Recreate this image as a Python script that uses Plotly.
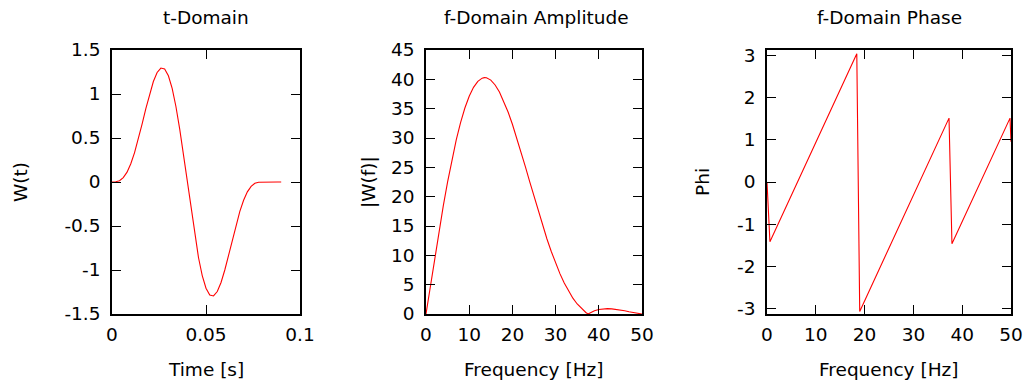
import plotly.graph_objects as go

# ---- data ----
time_s = [0.000, 0.002, 0.004, 0.006, 0.008, 0.010, 0.012, 0.014, 0.016, 0.018,
          0.020, 0.022, 0.024, 0.026, 0.028, 0.030, 0.032, 0.034, 0.036, 0.038,
          0.040, 0.042, 0.044, 0.046, 0.048, 0.050, 0.052, 0.054, 0.056, 0.058,
          0.060, 0.062, 0.064, 0.066, 0.068, 0.070, 0.072, 0.074, 0.076, 0.078,
          0.080, 0.082, 0.084, 0.086, 0.088, 0.090]
w_t = [0.000, 0.002, 0.015, 0.050, 0.112, 0.207, 0.334, 0.487, 0.657, 0.833,
       1.000, 1.142, 1.245, 1.295, 1.285, 1.207, 1.063, 0.858, 0.603, 0.311,
       0.000, -0.311, -0.603, -0.858, -1.063, -1.207, -1.285, -1.295, -1.245, -1.142,
       -1.000, -0.833, -0.657, -0.487, -0.334, -0.207, -0.112, -0.050, -0.015, -0.002,
       0.000, 0.000, 0.000, 0.000, 0.000, 0.000]

freq_amp = [0, 1, 2, 3, 4, 5, 6, 7, 8, 9, 10, 11, 12, 12.5, 13, 13.5, 14, 15, 16, 17,
            18, 19, 20, 21, 22, 23, 24, 25, 26, 27, 28, 29, 30, 31, 32, 33, 34, 35, 36,
            37, 37.5, 38, 39, 40, 41, 42, 43, 44, 45, 46, 47, 48, 49, 50]
amp = [0.0, 4.79, 9.50, 14.08, 18.44, 22.53, 26.28, 29.66, 32.61, 35.11, 37.12, 38.64,
       39.66, 40.00, 40.20, 40.29, 40.26, 39.87, 39.04, 37.83, 36.28, 34.44, 32.34, 30.05,
       27.63, 25.11, 22.55, 20.00, 17.50, 15.09, 12.79, 10.65, 8.67, 6.88, 5.29, 3.90,
       2.70, 1.71, 0.90, 0.26, 0.00, 0.22, 0.56, 0.78, 0.89, 0.92, 0.88, 0.80, 0.68,
       0.54, 0.39, 0.25, 0.12, 0.00]

freq_phase = [0.0, 0.6, 18.4, 19.0, 37.3, 37.9, 49.8, 50.0]
phase = [0.0, -1.42, 3.05, -3.08, 1.52, -1.47, 1.52, 0.96]

# ---- tick labels ----
t_xticks = [0, 0.05, 0.1]
t_xtext = ["0", "0.05", "0.1"]
t_yticks = [-1.5, -1, -0.5, 0, 0.5, 1, 1.5]
t_ytext = ["-1.5", "-1", "-0.5", "0", "0.5", "1", "1.5"]
f_xticks = [0, 10, 20, 30, 40, 50]
f_xtext = ["0", "10", "20", "30", "40", "50"]
a_yticks = [0, 5, 10, 15, 20, 25, 30, 35, 40, 45]
a_ytext = [str(v) for v in a_yticks]
p_yticks = [-3, -2, -1, 0, 1, 2, 3]
p_ytext = ["-3", "-2", "-1", "0", "1", "2", "3"]

# the page body has an 8px margin, so the figure starts at (8, 8)
OFF = 8
W, H = 1031 - OFF, 383 - OFF
FONT = "DejaVu Sans, sans-serif"
FS = 18.5

def px_x(p):
    return (p - OFF) / W

def px_y(p):
    return 1 - (p - OFF) / H

fig = go.Figure()
line = dict(color="#ff0000", width=1.1)
fig.add_trace(go.Scatter(x=time_s, y=w_t, mode="lines", line=line, xaxis="x", yaxis="y"))
fig.add_trace(go.Scatter(x=freq_amp, y=amp, mode="lines", line=line, xaxis="x2", yaxis="y2"))
fig.add_trace(go.Scatter(x=freq_phase, y=phase, mode="lines", line=line, xaxis="x3", yaxis="y3"))

ydom = [px_y(314), px_y(50)]
doms = [(112, 300), (426, 642), (767, 1011)]

common = dict(showgrid=False, zeroline=False, showline=True, linecolor="black",
              linewidth=1.6, mirror="allticks", ticks="inside", ticklen=9,
              tickwidth=1.3, tickcolor="black", automargin=False,
              tickfont=dict(family=FONT, size=FS, color="black"))

axes = [
    ("xaxis", "yaxis", [0, 0.1], t_xticks, t_xtext, [-1.5, 1.5], t_yticks, t_ytext, "x", "y"),
    ("xaxis2", "yaxis2", [0, 50], f_xticks, f_xtext, [0, 45], a_yticks, a_ytext, "x2", "y2"),
    ("xaxis3", "yaxis3", [0, 50], f_xticks, f_xtext, [-3.14159, 3.14159], p_yticks, p_ytext, "x3", "y3"),
]
layout = {}
for i, (xa, ya, xr, xt, xtt, yr, yt, ytt, xn, yn) in enumerate(axes):
    d = doms[i]
    layout[xa] = dict(common, domain=[px_x(d[0]), px_x(d[1])], range=xr,
                      tickvals=xt, ticktext=xtt, anchor=yn, ticklabelstandoff=3)
    layout[ya] = dict(common, domain=ydom, range=yr, tickvals=yt, ticktext=ytt,
                      anchor=xn, ticklabelstandoff=6)

fig.update_layout(**layout)

ann = []
titles = [("t-Domain", 206), ("f-Domain Amplitude", 536), ("f-Domain Phase", 889)]
for txt, cx in titles:
    ann.append(dict(text=txt, x=px_x(cx), y=px_y(17), xref="paper", yref="paper",
                    showarrow=False, xanchor="center", yanchor="middle",
                    font=dict(family=FONT, size=FS, color="black")))
xlabels = [("Time [s]", 206), ("Frequency [Hz]", 534), ("Frequency [Hz]", 889)]
for txt, cx in xlabels:
    ann.append(dict(text=txt, x=px_x(cx), y=px_y(369), xref="paper", yref="paper",
                    showarrow=False, xanchor="center", yanchor="middle",
                    font=dict(family=FONT, size=FS, color="black")))
ylabels = [("W(t)", 20), ("|W(f)|", 368), ("Phi", 702)]
for txt, cx in ylabels:
    ann.append(dict(text=txt, x=px_x(cx), y=px_y(182), xref="paper", yref="paper",
                    showarrow=False, xanchor="center", yanchor="middle", textangle=-90,
                    font=dict(family=FONT, size=FS, color="black")))

fig.update_layout(width=W, height=H,
                  margin=dict(l=0, r=0, t=0, b=0, pad=0, autoexpand=False),
                  paper_bgcolor="white", plot_bgcolor="white", showlegend=False,
                  annotations=ann, font=dict(family=FONT, size=FS, color="black"))

fig.write_html("out.html")
